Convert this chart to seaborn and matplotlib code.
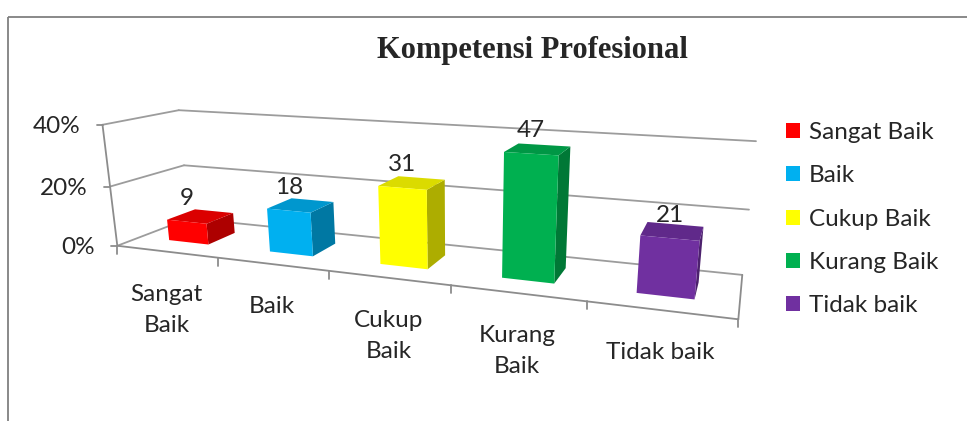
import matplotlib

matplotlib.use("Agg")
import matplotlib.pyplot as plt
import matplotlib.transforms as mtransforms
import numpy as np
import seaborn as sns
from matplotlib.patches import Patch, Rectangle

# data
categories = ["Sangat Baik", "Baik", "Cukup Baik", "Kurang Baik", "Tidak baik"]
tick_labels = ["Sangat\nBaik", "Baik", "Cukup\nBaik", "Kurang\nBaik", "Tidak baik"]
counts = [9, 18, 31, 47, 21]
colors = ["#FF0000", "#00B0F0", "#FFFF00", "#00B050", "#7030A0"]
y_ticks = [0.0, 0.2, 0.4]
y_tick_labels = ["0%", "20%", "40%"]
title = "Kompetensi Profesional"

share = np.array(counts) / np.sum(counts)

W, H = 967, 421
N = len(categories)
BAR_W = 0.4
D_FRONT, D_BACK = 0.3, 0.7

# camera: where the corners of the 3d chart box land in the picture
# world = (category axis 0..N, depth 0 front .. 1 back, value)
cam_world = np.array([
    (0, 0, 0), (1, 0, 0), (2, 0, 0), (3, 0, 0), (4, 0, 0), (5, 0, 0),
    (5, 1, 0), (0, 1, 0),
    (0, 0, 0.2), (0, 0, 0.4),
    (0, 1, 0.2), (0, 1, 0.4),
    (5, 1, 0.2), (5, 1, 0.4),
], dtype=float)
cam_px = np.array([
    (117, 245), (217, 257), (329, 270.5), (451, 285), (587, 301.5), (739, 320),
    (742, 273.5), (190, 221),
    (110.7, 186.7), (103, 126),
    (184, 165), (178, 108),
    (749, 209), (756, 143),
], dtype=float)


def fit_camera(world, px):
    c, s = px.mean(axis=0), px.std()
    uv = (px - c) / s
    w = world * [1, 1, 10]
    rows = []
    for (X, Y, Z), (u, v) in zip(w, uv):
        rows.append([X, Y, Z, 1, 0, 0, 0, 0, -u * X, -u * Y, -u * Z, -u])
        rows.append([0, 0, 0, 0, X, Y, Z, 1, -v * X, -v * Y, -v * Z, -v])
    P = np.linalg.svd(np.array(rows))[2][-1].reshape(3, 4)
    return P, c, s


P, C, S = fit_camera(cam_world, cam_px)


def project(X, Y, Z):
    X, Y, Z = np.broadcast_arrays(np.asarray(X, float), np.asarray(Y, float), np.asarray(Z, float))
    h = P @ np.vstack([X.ravel(), Y.ravel(), Z.ravel() * 10, np.ones(X.size)])
    return np.column_stack([h[0] / h[2], h[1] / h[2]]) * S + C


class Persp(mtransforms.Transform):
    """(seaborn bar x, value) at a fixed depth -> pixel"""
    input_dims = output_dims = 2
    is_separable = False
    has_inverse = False

    def __init__(self, dz):
        super().__init__()
        self.dz = dz

    def transform_non_affine(self, values):
        xy = np.asarray(values, float)
        flat = xy.reshape(-1, 2)
        out = project(flat[:, 0] + 0.5, self.dz, flat[:, 1])
        return out.reshape(xy.shape)


sns.set_theme(style="white")
plt.rcParams["font.family"] = ["Lato", "DejaVu Sans"]
FS = 17.5

fig = plt.figure(figsize=(W / 100, H / 100), dpi=100)
ax = fig.add_axes([0, 0, 1, 1])

sns.barplot(x=categories, y=share, hue=categories, palette=dict(zip(categories, colors)),
            width=BAR_W, saturation=1, errorbar=None, legend=False, linewidth=0, ax=ax)

bars = sorted(ax.patches, key=lambda p: p.get_x())
front = Persp(D_FRONT) + ax.transData
for p, c in zip(bars, counts):
    x0, w, h = p.get_x(), p.get_width(), p.get_height()
    X0, X1 = x0 + 0.5, x0 + w + 0.5
    rgb = np.array(p.get_facecolor()[:3])
    side = project(X1, [D_FRONT, D_BACK, D_BACK, D_FRONT], [0, 0, h, h])
    top = project([X0, X1, X1, X0], [D_FRONT, D_FRONT, D_BACK, D_BACK], h)
    ax.fill(*side.T, color=rgb * 0.68, lw=0, zorder=3)
    ax.fill(*top.T, color=rgb * 0.86, lw=0, zorder=3)
    p.set_transform(front)
    p.set_zorder(4)
    ax.annotate(str(c), xy=(x0 + w / 2, h), xycoords=front, xytext=(0, 16.5),
                textcoords="offset points", ha="center", va="center", fontsize=FS, zorder=5)

# walls, floor and axes
grid_kw = dict(color="#9c9c9c", lw=1.3, zorder=1)
axis_kw = dict(color="#8c8c8c", lw=1.3, zorder=1)
for v, lbl in zip(y_ticks, y_tick_labels):
    ax.plot(*project([0, N], 1, v).T, **grid_kw)
    ax.plot(*project(0, [0, 1], v).T, **grid_kw)
    px, py = project(0, 0, v)[0]
    ax.plot([px - 6, px], [py, py], **axis_kw)
    ax.text(px - 22, py + 2, lbl, ha="right", va="center", fontsize=FS)
ax.plot(*project(0, 0, [0, y_ticks[-1]]).T, **axis_kw)
ax.plot(*project([0, N], 0, 0).T, **axis_kw)
ax.plot(*project(N, [0, 1], 0).T, **axis_kw)
for k in range(N + 1):
    px, py = project(k, 0, 0)[0]
    ax.plot([px, px], [py, py + 8], **axis_kw)
for i, lbl in enumerate(tick_labels):
    px, py = project(i + 0.5, 0, 0)[0]
    ax.text(px, py + 32, lbl, ha="center", va="top", fontsize=FS, linespacing=1.6)

ax.text(532, 58, title, ha="center", va="baseline", fontsize=22, fontweight="bold",
        family=["Liberation Serif", "DejaVu Serif"])

handles = [Patch(facecolor=c, edgecolor="none") for c in colors]
ax.legend(handles, categories, loc="upper left", bbox_to_anchor=(786, 122),
          bbox_transform=ax.transData, frameon=False, fontsize=FS,
          handlelength=0.58, handleheight=0.58, handletextpad=0.35,
          labelspacing=0.92, borderpad=0, borderaxespad=0)

ax.add_patch(Rectangle((8, 16.5), W, H, fill=False, ec="#808080", lw=1.3, zorder=0))

ax.set_xlim(0, W)
ax.set_ylim(H, 0)
ax.set_axis_off()

fig.savefig("out.png", dpi=100)
